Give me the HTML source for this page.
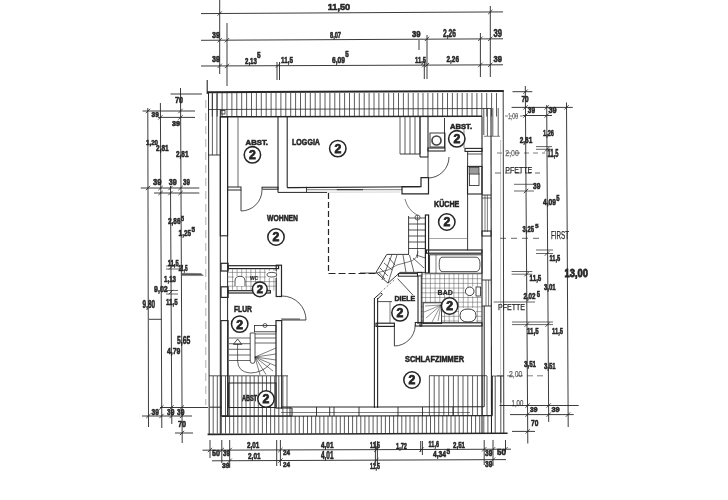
<!DOCTYPE html>
<html><head><meta charset="utf-8"><style>
html,body{margin:0;padding:0;background:#fff;width:728px;height:500px;overflow:hidden}
svg{display:block;filter:blur(0.35px)}
text{font-family:"Liberation Sans",sans-serif}
</style></head><body>
<svg width="728" height="500" viewBox="0 0 728 500">
<rect width="728" height="500" fill="#fff"/>
<line x1="201" y1="13.6" x2="503" y2="11.9" stroke="#262626" stroke-width="0.9"/>
<line x1="201" y1="40.3" x2="503" y2="38.8" stroke="#262626" stroke-width="0.9"/>
<line x1="201" y1="66" x2="503" y2="64.8" stroke="#262626" stroke-width="0.9"/>
<line x1="219.7" y1="0" x2="219.7" y2="74" stroke="#262626" stroke-width="0.9"/>
<line x1="227" y1="23" x2="227" y2="86" stroke="#262626" stroke-width="0.9"/>
<line x1="277" y1="62" x2="277" y2="80" stroke="#262626" stroke-width="0.9"/>
<line x1="279.5" y1="62" x2="279.5" y2="80" stroke="#262626" stroke-width="0.9"/>
<line x1="419" y1="40" x2="419" y2="50" stroke="#262626" stroke-width="0.9"/>
<line x1="424.3" y1="61" x2="424.3" y2="79" stroke="#262626" stroke-width="0.9"/>
<line x1="427" y1="35" x2="427" y2="79" stroke="#262626" stroke-width="0.9"/>
<line x1="480.4" y1="33" x2="480.4" y2="77" stroke="#262626" stroke-width="0.9"/>
<line x1="490.3" y1="6" x2="490.3" y2="77" stroke="#262626" stroke-width="0.9"/>
<line x1="217.5" y1="15.7" x2="221.89999999999998" y2="11.3" stroke="#262626" stroke-width="0.8"/>
<line x1="488.1" y1="14.2" x2="492.5" y2="9.8" stroke="#262626" stroke-width="0.8"/>
<line x1="217.5" y1="42.400000000000006" x2="221.89999999999998" y2="38.0" stroke="#262626" stroke-width="0.8"/>
<line x1="224.8" y1="42.400000000000006" x2="229.2" y2="38.0" stroke="#262626" stroke-width="0.8"/>
<line x1="424.8" y1="41.1" x2="429.2" y2="36.699999999999996" stroke="#262626" stroke-width="0.8"/>
<line x1="478.2" y1="41.0" x2="482.59999999999997" y2="36.599999999999994" stroke="#262626" stroke-width="0.8"/>
<line x1="488.1" y1="41.0" x2="492.5" y2="36.599999999999994" stroke="#262626" stroke-width="0.8"/>
<line x1="217.5" y1="68.10000000000001" x2="221.89999999999998" y2="63.7" stroke="#262626" stroke-width="0.8"/>
<line x1="224.8" y1="68.10000000000001" x2="229.2" y2="63.7" stroke="#262626" stroke-width="0.8"/>
<line x1="275.8" y1="67.7" x2="280.2" y2="63.3" stroke="#262626" stroke-width="0.8"/>
<line x1="422.1" y1="67.3" x2="426.5" y2="62.89999999999999" stroke="#262626" stroke-width="0.8"/>
<line x1="424.8" y1="67.3" x2="429.2" y2="62.89999999999999" stroke="#262626" stroke-width="0.8"/>
<line x1="478.2" y1="67.10000000000001" x2="482.59999999999997" y2="62.7" stroke="#262626" stroke-width="0.8"/>
<line x1="488.1" y1="67.0" x2="492.5" y2="62.599999999999994" stroke="#262626" stroke-width="0.8"/>
<text x="327.7" y="9.9" font-size="9.84" font-weight="bold" fill="#262626" stroke="#262626" stroke-width="0.6" textLength="22.50" lengthAdjust="spacingAndGlyphs">11,50</text>
<text x="212" y="37.5" font-size="8.59" font-weight="bold" fill="#262626" stroke="#262626" stroke-width="0.55" textLength="8.00" lengthAdjust="spacingAndGlyphs">39</text>
<text x="330" y="37.5" font-size="8.59" font-weight="bold" fill="#262626" stroke="#262626" stroke-width="0.55" textLength="11.00" lengthAdjust="spacingAndGlyphs">8,07</text>
<text x="412" y="37" font-size="9.38" font-weight="bold" fill="#262626" stroke="#262626" stroke-width="0.55" textLength="8.60" lengthAdjust="spacingAndGlyphs">39</text>
<text x="443" y="37" font-size="10.16" font-weight="bold" fill="#262626" stroke="#262626" stroke-width="0.55" textLength="13.00" lengthAdjust="spacingAndGlyphs">2,26</text>
<text x="493.5" y="37" font-size="10.16" font-weight="bold" fill="#262626" stroke="#262626" stroke-width="0.55" textLength="8.50" lengthAdjust="spacingAndGlyphs">39</text>
<text x="212" y="62" font-size="9.38" font-weight="bold" fill="#262626" stroke="#262626" stroke-width="0.55" textLength="8.00" lengthAdjust="spacingAndGlyphs">39</text>
<text x="245" y="63.7" font-size="8.44" font-weight="bold" fill="#262626" stroke="#262626" stroke-width="0.55" textLength="11.90" lengthAdjust="spacingAndGlyphs">2,13</text>
<text x="257.00" y="57.50" font-size="8.59" font-weight="bold" fill="#262626" stroke="#262626" stroke-width="0.55" textLength="3.60" lengthAdjust="spacingAndGlyphs">5</text>
<text x="281" y="63" font-size="9.38" font-weight="bold" fill="#262626" stroke="#262626" stroke-width="0.55" textLength="12.00" lengthAdjust="spacingAndGlyphs">11,5</text>
<text x="332" y="62.5" font-size="8.59" font-weight="bold" fill="#262626" stroke="#262626" stroke-width="0.55" textLength="13.00" lengthAdjust="spacingAndGlyphs">6,09</text>
<text x="345.30" y="56.80" font-size="8.28" font-weight="bold" fill="#262626" stroke="#262626" stroke-width="0.55" textLength="3.50" lengthAdjust="spacingAndGlyphs">5</text>
<text x="415" y="63" font-size="9.38" font-weight="bold" fill="#262626" stroke="#262626" stroke-width="0.55" textLength="11.00" lengthAdjust="spacingAndGlyphs">11,5</text>
<text x="446.5" y="62" font-size="9.38" font-weight="bold" fill="#262626" stroke="#262626" stroke-width="0.55" textLength="12.50" lengthAdjust="spacingAndGlyphs">2,26</text>
<text x="493.5" y="62" font-size="9.38" font-weight="bold" fill="#262626" stroke="#262626" stroke-width="0.55" textLength="8.50" lengthAdjust="spacingAndGlyphs">39</text>
<line x1="170.5" y1="94" x2="202" y2="94" stroke="#262626" stroke-width="0.9"/>
<text x="175" y="103" font-size="8.44" font-weight="bold" fill="#262626" stroke="#262626" stroke-width="0.55" textLength="8.00" lengthAdjust="spacingAndGlyphs">70</text>
<line x1="142.6" y1="111" x2="195" y2="111" stroke="#262626" stroke-width="0.9"/>
<line x1="158" y1="117.4" x2="195" y2="117.4" stroke="#262626" stroke-width="0.9"/>
<line x1="147.8" y1="108" x2="148.5" y2="427" stroke="#262626" stroke-width="0.9"/>
<line x1="160.4" y1="103" x2="161.8" y2="428" stroke="#262626" stroke-width="0.9"/>
<line x1="170.5" y1="186" x2="171.8" y2="424" stroke="#262626" stroke-width="0.9"/>
<line x1="180.5" y1="88" x2="182.2" y2="443" stroke="#262626" stroke-width="0.9"/>
<line x1="140.8" y1="188" x2="199.3" y2="188" stroke="#262626" stroke-width="0.9"/>
<line x1="154" y1="193" x2="199.3" y2="193" stroke="#262626" stroke-width="0.9"/>
<line x1="160" y1="407.5" x2="208" y2="407.5" stroke="#262626" stroke-width="0.9"/>
<line x1="142" y1="416" x2="192" y2="416" stroke="#262626" stroke-width="0.9"/>
<line x1="175" y1="433" x2="193" y2="433" stroke="#262626" stroke-width="0.9"/>
<line x1="149" y1="319.3" x2="161.5" y2="319.3" stroke="#262626" stroke-width="0.9"/>
<line x1="145.8" y1="113.2" x2="150.2" y2="108.8" stroke="#262626" stroke-width="0.8"/>
<line x1="158.20000000000002" y1="119.60000000000001" x2="162.6" y2="115.2" stroke="#262626" stroke-width="0.8"/>
<line x1="178.3" y1="113.2" x2="182.7" y2="108.8" stroke="#262626" stroke-width="0.8"/>
<line x1="178.3" y1="119.60000000000001" x2="182.7" y2="115.2" stroke="#262626" stroke-width="0.8"/>
<line x1="145.8" y1="190.2" x2="150.2" y2="185.8" stroke="#262626" stroke-width="0.8"/>
<line x1="158.4" y1="190.2" x2="162.79999999999998" y2="185.8" stroke="#262626" stroke-width="0.8"/>
<line x1="168.3" y1="190.2" x2="172.7" y2="185.8" stroke="#262626" stroke-width="0.8"/>
<line x1="178.4" y1="190.2" x2="182.79999999999998" y2="185.8" stroke="#262626" stroke-width="0.8"/>
<line x1="158.4" y1="195.2" x2="162.79999999999998" y2="190.8" stroke="#262626" stroke-width="0.8"/>
<line x1="168.3" y1="195.2" x2="172.7" y2="190.8" stroke="#262626" stroke-width="0.8"/>
<line x1="178.4" y1="195.2" x2="182.79999999999998" y2="190.8" stroke="#262626" stroke-width="0.8"/>
<line x1="159.10000000000002" y1="409.7" x2="163.5" y2="405.3" stroke="#262626" stroke-width="0.8"/>
<line x1="169.3" y1="409.7" x2="173.7" y2="405.3" stroke="#262626" stroke-width="0.8"/>
<line x1="179.60000000000002" y1="409.7" x2="184.0" y2="405.3" stroke="#262626" stroke-width="0.8"/>
<line x1="146.20000000000002" y1="418.2" x2="150.6" y2="413.8" stroke="#262626" stroke-width="0.8"/>
<line x1="159.3" y1="418.2" x2="163.7" y2="413.8" stroke="#262626" stroke-width="0.8"/>
<line x1="169.5" y1="418.2" x2="173.89999999999998" y2="413.8" stroke="#262626" stroke-width="0.8"/>
<line x1="179.8" y1="418.2" x2="184.2" y2="413.8" stroke="#262626" stroke-width="0.8"/>
<line x1="179.8" y1="435.2" x2="184.2" y2="430.8" stroke="#262626" stroke-width="0.8"/>
<line x1="178.8" y1="270.2" x2="183.2" y2="265.8" stroke="#262626" stroke-width="0.8"/>
<line x1="168.8" y1="269.7" x2="173.2" y2="265.3" stroke="#262626" stroke-width="0.8"/>
<line x1="168.8" y1="294.2" x2="173.2" y2="289.8" stroke="#262626" stroke-width="0.8"/>
<line x1="166" y1="266" x2="181" y2="266" stroke="#262626" stroke-width="0.7"/>
<line x1="166" y1="269" x2="181" y2="269" stroke="#262626" stroke-width="0.7"/>
<path d="M181.3,273.2 L201,273.6 L203.5,275.6 L181.3,275.6 Z" fill="#555" stroke="#555" stroke-width="0.4"/>
<line x1="166" y1="290.5" x2="178" y2="290.5" stroke="#262626" stroke-width="0.7"/>
<line x1="166" y1="294" x2="178" y2="294" stroke="#262626" stroke-width="0.7"/>
<text x="151.6" y="116.5" font-size="7.03" font-weight="bold" fill="#262626" stroke="#262626" stroke-width="0.55" textLength="7.20" lengthAdjust="spacingAndGlyphs">39</text>
<text x="172" y="125.5" font-size="7.03" font-weight="bold" fill="#262626" stroke="#262626" stroke-width="0.55" textLength="8.00" lengthAdjust="spacingAndGlyphs">39</text>
<text x="146" y="145" font-size="7.81" font-weight="bold" fill="#262626" stroke="#262626" stroke-width="0.55" textLength="12.00" lengthAdjust="spacingAndGlyphs">1,20</text>
<text x="156" y="150.7" font-size="8.91" font-weight="bold" fill="#262626" stroke="#262626" stroke-width="0.55" textLength="12.70" lengthAdjust="spacingAndGlyphs">2,81</text>
<text x="176" y="157" font-size="8.44" font-weight="bold" fill="#262626" stroke="#262626" stroke-width="0.55" textLength="12.50" lengthAdjust="spacingAndGlyphs">2,81</text>
<text x="153" y="185.3" font-size="9.84" font-weight="bold" fill="#262626" stroke="#262626" stroke-width="0.55" textLength="8.50" lengthAdjust="spacingAndGlyphs">39</text>
<text x="168.7" y="185.3" font-size="9.84" font-weight="bold" fill="#262626" stroke="#262626" stroke-width="0.55" textLength="8.10" lengthAdjust="spacingAndGlyphs">39</text>
<text x="183" y="185.3" font-size="9.84" font-weight="bold" fill="#262626" stroke="#262626" stroke-width="0.55" textLength="7.00" lengthAdjust="spacingAndGlyphs">39</text>
<text x="168" y="224" font-size="8.44" font-weight="bold" fill="#262626" stroke="#262626" stroke-width="0.55" textLength="12.50" lengthAdjust="spacingAndGlyphs">2,86</text>
<text x="181.00" y="221.30" font-size="7.03" font-weight="bold" fill="#262626" stroke="#262626" stroke-width="0.55" textLength="3.00" lengthAdjust="spacingAndGlyphs">5</text>
<text x="178.6" y="235.7" font-size="9.84" font-weight="bold" fill="#262626" stroke="#262626" stroke-width="0.55" textLength="12.40" lengthAdjust="spacingAndGlyphs">1,25</text>
<text x="191.50" y="232.00" font-size="6.88" font-weight="bold" fill="#262626" stroke="#262626" stroke-width="0.55" textLength="3.50" lengthAdjust="spacingAndGlyphs">5</text>
<text x="167.8" y="265.5" font-size="8.59" font-weight="bold" fill="#262626" stroke="#262626" stroke-width="0.55" textLength="10.80" lengthAdjust="spacingAndGlyphs">11,5</text>
<text x="178.6" y="270.7" font-size="8.91" font-weight="bold" fill="#262626" stroke="#262626" stroke-width="0.55" textLength="9.00" lengthAdjust="spacingAndGlyphs">11,5</text>
<text x="164" y="281.5" font-size="9.38" font-weight="bold" fill="#262626" stroke="#262626" stroke-width="0.55" textLength="12.00" lengthAdjust="spacingAndGlyphs">1,13</text>
<text x="154" y="292.3" font-size="9.84" font-weight="bold" fill="#262626" stroke="#262626" stroke-width="0.55" textLength="13.80" lengthAdjust="spacingAndGlyphs">9,02</text>
<text x="166" y="305" font-size="9.38" font-weight="bold" fill="#262626" stroke="#262626" stroke-width="0.55" textLength="11.70" lengthAdjust="spacingAndGlyphs">11,5</text>
<text x="142.6" y="307.6" font-size="10.31" font-weight="bold" fill="#262626" stroke="#262626" stroke-width="0.55" textLength="12.40" lengthAdjust="spacingAndGlyphs">9,80</text>
<text x="177" y="344.4" font-size="10.00" font-weight="bold" fill="#262626" stroke="#262626" stroke-width="0.55" textLength="13.30" lengthAdjust="spacingAndGlyphs">5,65</text>
<text x="167" y="354.3" font-size="9.84" font-weight="bold" fill="#262626" stroke="#262626" stroke-width="0.55" textLength="13.40" lengthAdjust="spacingAndGlyphs">4,79</text>
<text x="151.6" y="415" font-size="9.38" font-weight="bold" fill="#262626" stroke="#262626" stroke-width="0.55" textLength="7.40" lengthAdjust="spacingAndGlyphs">39</text>
<text x="167" y="415" font-size="9.38" font-weight="bold" fill="#262626" stroke="#262626" stroke-width="0.55" textLength="7.40" lengthAdjust="spacingAndGlyphs">39</text>
<text x="177" y="415" font-size="9.38" font-weight="bold" fill="#262626" stroke="#262626" stroke-width="0.55" textLength="7.40" lengthAdjust="spacingAndGlyphs">39</text>
<text x="178" y="427" font-size="8.44" font-weight="bold" fill="#262626" stroke="#262626" stroke-width="0.55" textLength="8.00" lengthAdjust="spacingAndGlyphs">70</text>
<line x1="202.5" y1="450.2" x2="511" y2="449.2" stroke="#262626" stroke-width="0.9"/>
<line x1="212" y1="460.8" x2="506" y2="459.6" stroke="#262626" stroke-width="0.9"/>
<line x1="210" y1="440" x2="210" y2="458" stroke="#262626" stroke-width="0.9"/>
<line x1="221.8" y1="440" x2="221.8" y2="463" stroke="#262626" stroke-width="0.9"/>
<line x1="229.7" y1="440" x2="229.7" y2="468" stroke="#262626" stroke-width="0.9"/>
<line x1="276.7" y1="440" x2="276.7" y2="466" stroke="#262626" stroke-width="0.9"/>
<line x1="280.4" y1="440" x2="280.4" y2="466" stroke="#262626" stroke-width="0.9"/>
<line x1="375.4" y1="441" x2="375.4" y2="466" stroke="#262626" stroke-width="0.9"/>
<line x1="377.4" y1="441" x2="377.4" y2="466" stroke="#262626" stroke-width="0.9"/>
<line x1="420.7" y1="441" x2="420.7" y2="452" stroke="#262626" stroke-width="0.9"/>
<line x1="422.4" y1="441" x2="422.4" y2="455" stroke="#262626" stroke-width="0.9"/>
<line x1="484.2" y1="440" x2="484.2" y2="465" stroke="#262626" stroke-width="0.9"/>
<line x1="493" y1="440" x2="493" y2="466" stroke="#262626" stroke-width="0.9"/>
<line x1="505.5" y1="440" x2="505.5" y2="452" stroke="#262626" stroke-width="0.9"/>
<line x1="207.8" y1="452.2" x2="212.2" y2="447.8" stroke="#262626" stroke-width="0.8"/>
<line x1="219.60000000000002" y1="452.2" x2="224.0" y2="447.8" stroke="#262626" stroke-width="0.8"/>
<line x1="227.5" y1="452.2" x2="231.89999999999998" y2="447.8" stroke="#262626" stroke-width="0.8"/>
<line x1="227.5" y1="463.0" x2="231.89999999999998" y2="458.6" stroke="#262626" stroke-width="0.8"/>
<line x1="278.2" y1="452.2" x2="282.59999999999997" y2="447.8" stroke="#262626" stroke-width="0.8"/>
<line x1="278.2" y1="462.8" x2="282.59999999999997" y2="458.40000000000003" stroke="#262626" stroke-width="0.8"/>
<line x1="374.2" y1="452.0" x2="378.59999999999997" y2="447.6" stroke="#262626" stroke-width="0.8"/>
<line x1="374.2" y1="462.4" x2="378.59999999999997" y2="458.0" stroke="#262626" stroke-width="0.8"/>
<line x1="419.3" y1="451.8" x2="423.7" y2="447.40000000000003" stroke="#262626" stroke-width="0.8"/>
<line x1="482.0" y1="451.5" x2="486.4" y2="447.1" stroke="#262626" stroke-width="0.8"/>
<line x1="490.8" y1="451.5" x2="495.2" y2="447.1" stroke="#262626" stroke-width="0.8"/>
<line x1="490.8" y1="461.9" x2="495.2" y2="457.5" stroke="#262626" stroke-width="0.8"/>
<line x1="503.3" y1="451.4" x2="507.7" y2="447.0" stroke="#262626" stroke-width="0.8"/>
<text x="212" y="456.4" font-size="8.44" font-weight="bold" fill="#262626" stroke="#262626" stroke-width="0.55" textLength="8.00" lengthAdjust="spacingAndGlyphs">50</text>
<text x="223" y="456.4" font-size="8.44" font-weight="bold" fill="#262626" stroke="#262626" stroke-width="0.55" textLength="7.00" lengthAdjust="spacingAndGlyphs">39</text>
<text x="222" y="468" font-size="7.81" font-weight="bold" fill="#262626" stroke="#262626" stroke-width="0.55" textLength="7.70" lengthAdjust="spacingAndGlyphs">39</text>
<text x="247" y="448.4" font-size="8.44" font-weight="bold" fill="#262626" stroke="#262626" stroke-width="0.55" textLength="12.30" lengthAdjust="spacingAndGlyphs">2,01</text>
<text x="248" y="459" font-size="9.38" font-weight="bold" fill="#262626" stroke="#262626" stroke-width="0.55" textLength="12.60" lengthAdjust="spacingAndGlyphs">2,01</text>
<text x="283" y="454.6" font-size="7.66" font-weight="bold" fill="#262626" stroke="#262626" stroke-width="0.55" textLength="7.00" lengthAdjust="spacingAndGlyphs">24</text>
<text x="283" y="467" font-size="7.81" font-weight="bold" fill="#262626" stroke="#262626" stroke-width="0.55" textLength="7.00" lengthAdjust="spacingAndGlyphs">24</text>
<text x="321" y="448.4" font-size="8.44" font-weight="bold" fill="#262626" stroke="#262626" stroke-width="0.55" textLength="12.50" lengthAdjust="spacingAndGlyphs">4,01</text>
<text x="321" y="459" font-size="10.16" font-weight="bold" fill="#262626" stroke="#262626" stroke-width="0.55" textLength="12.50" lengthAdjust="spacingAndGlyphs">4,01</text>
<text x="370" y="447.7" font-size="8.91" font-weight="bold" fill="#262626" stroke="#262626" stroke-width="0.55" textLength="10.00" lengthAdjust="spacingAndGlyphs">11,5</text>
<text x="370" y="469" font-size="9.38" font-weight="bold" fill="#262626" stroke="#262626" stroke-width="0.55" textLength="10.00" lengthAdjust="spacingAndGlyphs">11,5</text>
<text x="396" y="449" font-size="8.59" font-weight="bold" fill="#262626" stroke="#262626" stroke-width="0.55" textLength="11.00" lengthAdjust="spacingAndGlyphs">1,72</text>
<text x="428.6" y="446.7" font-size="8.91" font-weight="bold" fill="#262626" stroke="#262626" stroke-width="0.55" textLength="10.40" lengthAdjust="spacingAndGlyphs">11,6</text>
<text x="453" y="447.7" font-size="8.91" font-weight="bold" fill="#262626" stroke="#262626" stroke-width="0.55" textLength="12.00" lengthAdjust="spacingAndGlyphs">2,51</text>
<text x="433" y="457.4" font-size="8.44" font-weight="bold" fill="#262626" stroke="#262626" stroke-width="0.55" textLength="13.00" lengthAdjust="spacingAndGlyphs">4,34</text>
<text x="446.40" y="453.70" font-size="8.12" font-weight="bold" fill="#262626" stroke="#262626" stroke-width="0.55" textLength="3.60" lengthAdjust="spacingAndGlyphs">5</text>
<text x="485" y="456" font-size="9.38" font-weight="bold" fill="#262626" stroke="#262626" stroke-width="0.55" textLength="7.40" lengthAdjust="spacingAndGlyphs">39</text>
<text x="485" y="466.5" font-size="9.38" font-weight="bold" fill="#262626" stroke="#262626" stroke-width="0.55" textLength="7.40" lengthAdjust="spacingAndGlyphs">39</text>
<text x="497" y="455" font-size="8.28" font-weight="bold" fill="#262626" stroke="#262626" stroke-width="0.55" textLength="9.00" lengthAdjust="spacingAndGlyphs">50</text>
<line x1="512.5" y1="91.7" x2="532.3" y2="91.7" stroke="#262626" stroke-width="0.9"/>
<text x="521.5" y="101.6" font-size="8.75" font-weight="bold" fill="#262626" stroke="#262626" stroke-width="0.55" textLength="7.20" lengthAdjust="spacingAndGlyphs">70</text>
<line x1="525.3" y1="86" x2="527.8" y2="443.5" stroke="#262626" stroke-width="0.9"/>
<line x1="511.6" y1="107.4" x2="572.8" y2="107.4" stroke="#262626" stroke-width="0.9"/>
<line x1="523" y1="115.5" x2="552" y2="115.5" stroke="#262626" stroke-width="0.9"/>
<text x="527.8" y="113.3" font-size="8.28" font-weight="bold" fill="#262626" stroke="#262626" stroke-width="0.55" textLength="7.20" lengthAdjust="spacingAndGlyphs">39</text>
<text x="548.5" y="113.3" font-size="8.28" font-weight="bold" fill="#262626" stroke="#262626" stroke-width="0.55" textLength="8.10" lengthAdjust="spacingAndGlyphs">39</text>
<text x="508" y="118.7" font-size="8.91" font-weight="normal" fill="#262626" stroke="#262626" stroke-width="0.25" textLength="10.00" lengthAdjust="spacingAndGlyphs" opacity="0.7">1,00</text>
<line x1="505" y1="116" x2="523" y2="116" stroke="#262626" stroke-width="0.6" stroke-dasharray="3,2"/>
<line x1="546.7" y1="105" x2="548.7" y2="422" stroke="#262626" stroke-width="0.9"/>
<line x1="566.5" y1="102.5" x2="568.2" y2="427" stroke="#262626" stroke-width="0.9"/>
<line x1="523.3" y1="93.9" x2="527.7" y2="89.5" stroke="#262626" stroke-width="0.8"/>
<line x1="523.3" y1="109.60000000000001" x2="527.7" y2="105.2" stroke="#262626" stroke-width="0.8"/>
<line x1="544.5" y1="109.60000000000001" x2="548.9000000000001" y2="105.2" stroke="#262626" stroke-width="0.8"/>
<line x1="564.3" y1="109.60000000000001" x2="568.7" y2="105.2" stroke="#262626" stroke-width="0.8"/>
<line x1="523.3" y1="117.7" x2="527.7" y2="113.3" stroke="#262626" stroke-width="0.8"/>
<line x1="544.5" y1="117.7" x2="548.9000000000001" y2="113.3" stroke="#262626" stroke-width="0.8"/>
<line x1="544.8" y1="151.5" x2="549.2" y2="147.10000000000002" stroke="#262626" stroke-width="0.8"/>
<line x1="523.8" y1="193.2" x2="528.2" y2="188.8" stroke="#262626" stroke-width="0.8"/>
<line x1="544.8" y1="255.7" x2="549.2" y2="251.3" stroke="#262626" stroke-width="0.8"/>
<line x1="524.3" y1="276.4" x2="528.7" y2="272.0" stroke="#262626" stroke-width="0.8"/>
<line x1="524.5999999999999" y1="326.8" x2="529.0" y2="322.40000000000003" stroke="#262626" stroke-width="0.8"/>
<line x1="545.4" y1="326.8" x2="549.8000000000001" y2="322.40000000000003" stroke="#262626" stroke-width="0.8"/>
<line x1="525.4" y1="407.7" x2="529.8000000000001" y2="403.3" stroke="#262626" stroke-width="0.8"/>
<line x1="546.5" y1="407.7" x2="550.9000000000001" y2="403.3" stroke="#262626" stroke-width="0.8"/>
<line x1="525.4" y1="416.8" x2="529.8000000000001" y2="412.40000000000003" stroke="#262626" stroke-width="0.8"/>
<line x1="546.5" y1="416.8" x2="550.9000000000001" y2="412.40000000000003" stroke="#262626" stroke-width="0.8"/>
<line x1="565.8" y1="416.8" x2="570.2" y2="412.40000000000003" stroke="#262626" stroke-width="0.8"/>
<line x1="525.5" y1="433.59999999999997" x2="529.9000000000001" y2="429.2" stroke="#262626" stroke-width="0.8"/>
<text x="543" y="135.8" font-size="9.84" font-weight="bold" fill="#262626" stroke="#262626" stroke-width="0.55" textLength="11.00" lengthAdjust="spacingAndGlyphs">1,26</text>
<text x="519.7" y="143" font-size="9.38" font-weight="bold" fill="#262626" stroke="#262626" stroke-width="0.55" textLength="12.60" lengthAdjust="spacingAndGlyphs">2,81</text>
<line x1="536" y1="146.6" x2="552" y2="146.6" stroke="#262626" stroke-width="0.7"/>
<line x1="536" y1="149.3" x2="552" y2="149.3" stroke="#262626" stroke-width="0.7"/>
<text x="547.6" y="157.4" font-size="10.00" font-weight="bold" fill="#262626" stroke="#262626" stroke-width="0.55" textLength="10.80" lengthAdjust="spacingAndGlyphs">11,5</text>
<text x="505.3" y="155.6" font-size="9.53" font-weight="normal" fill="#262626" stroke="#262626" stroke-width="0.25" textLength="13.50" lengthAdjust="spacingAndGlyphs" opacity="0.7">2,00</text>
<line x1="497" y1="153" x2="545" y2="153" stroke="#262626" stroke-width="0.6" stroke-dasharray="5,4"/>
<text x="505.3" y="172.6" font-size="9.84" font-weight="normal" fill="#262626" stroke="#262626" stroke-width="0.25" textLength="27.00" lengthAdjust="spacingAndGlyphs">PFETTE</text>
<line x1="495" y1="173" x2="540" y2="173" stroke="#262626" stroke-width="0.7" stroke-dasharray="6,4"/>
<line x1="514" y1="184.3" x2="534" y2="184.3" stroke="#262626" stroke-width="0.7"/>
<line x1="514" y1="191" x2="534" y2="191" stroke="#262626" stroke-width="0.7"/>
<text x="533" y="188.8" font-size="9.84" font-weight="bold" fill="#262626" stroke="#262626" stroke-width="0.55" textLength="7.40" lengthAdjust="spacingAndGlyphs">39</text>
<text x="543" y="205" font-size="8.44" font-weight="bold" fill="#262626" stroke="#262626" stroke-width="0.55" textLength="13.00" lengthAdjust="spacingAndGlyphs">4,09</text>
<text x="556.20" y="201.40" font-size="8.44" font-weight="bold" fill="#262626" stroke="#262626" stroke-width="0.55" textLength="3.30" lengthAdjust="spacingAndGlyphs">5</text>
<text x="522.6" y="232.4" font-size="8.44" font-weight="bold" fill="#262626" stroke="#262626" stroke-width="0.55" textLength="11.40" lengthAdjust="spacingAndGlyphs">3,25</text>
<text x="535.20" y="227.60" font-size="5.47" font-weight="bold" fill="#262626" stroke="#262626" stroke-width="0.55" textLength="3.30" lengthAdjust="spacingAndGlyphs">5</text>
<text x="551" y="239" font-size="10.94" font-weight="normal" fill="#262626" stroke="#262626" stroke-width="0.25" textLength="18.00" lengthAdjust="spacingAndGlyphs">FIRST</text>
<line x1="500" y1="238.3" x2="544" y2="238.3" stroke="#262626" stroke-width="0.7" stroke-dasharray="6,5"/>
<line x1="536" y1="250" x2="553" y2="250" stroke="#262626" stroke-width="0.7"/>
<line x1="536" y1="253.5" x2="553" y2="253.5" stroke="#262626" stroke-width="0.7"/>
<text x="549.4" y="260.7" font-size="8.44" font-weight="bold" fill="#262626" stroke="#262626" stroke-width="0.55" textLength="10.80" lengthAdjust="spacingAndGlyphs">11,5</text>
<line x1="511.6" y1="271.5" x2="532.3" y2="271.5" stroke="#262626" stroke-width="0.7"/>
<line x1="511.6" y1="274.2" x2="532.3" y2="274.2" stroke="#262626" stroke-width="0.7"/>
<text x="529.6" y="280.5" font-size="8.59" font-weight="bold" fill="#262626" stroke="#262626" stroke-width="0.55" textLength="11.70" lengthAdjust="spacingAndGlyphs">11,5</text>
<text x="544" y="290.4" font-size="8.44" font-weight="bold" fill="#262626" stroke="#262626" stroke-width="0.55" textLength="11.70" lengthAdjust="spacingAndGlyphs">3,01</text>
<text x="523.4" y="299.2" font-size="9.06" font-weight="bold" fill="#262626" stroke="#262626" stroke-width="0.55" textLength="12.20" lengthAdjust="spacingAndGlyphs">2,02</text>
<text x="536.80" y="296.50" font-size="8.28" font-weight="bold" fill="#262626" stroke="#262626" stroke-width="0.55" textLength="3.30" lengthAdjust="spacingAndGlyphs">5</text>
<text x="498" y="310.2" font-size="9.69" font-weight="normal" fill="#262626" stroke="#262626" stroke-width="0.25" textLength="27.00" lengthAdjust="spacingAndGlyphs">PFETTE</text>
<line x1="493.6" y1="302" x2="535" y2="302" stroke="#262626" stroke-width="0.7"/>
<line x1="512" y1="322" x2="553" y2="322" stroke="#262626" stroke-width="0.7"/>
<line x1="512" y1="324.6" x2="553" y2="324.6" stroke="#262626" stroke-width="0.7"/>
<text x="564.6" y="277" font-size="11.25" font-weight="bold" fill="#262626" stroke="#262626" stroke-width="0.8" textLength="23.40" lengthAdjust="spacingAndGlyphs">13,00</text>
<text x="527" y="333.5" font-size="9.38" font-weight="bold" fill="#262626" stroke="#262626" stroke-width="0.55" textLength="11.60" lengthAdjust="spacingAndGlyphs">11,5</text>
<text x="552" y="333.5" font-size="9.38" font-weight="bold" fill="#262626" stroke="#262626" stroke-width="0.55" textLength="11.00" lengthAdjust="spacingAndGlyphs">11,5</text>
<text x="524" y="366.8" font-size="9.84" font-weight="bold" fill="#262626" stroke="#262626" stroke-width="0.55" textLength="12.00" lengthAdjust="spacingAndGlyphs">3,51</text>
<text x="544" y="368.6" font-size="9.84" font-weight="bold" fill="#262626" stroke="#262626" stroke-width="0.55" textLength="11.70" lengthAdjust="spacingAndGlyphs">3,51</text>
<text x="509" y="376.7" font-size="8.44" font-weight="normal" fill="#262626" stroke="#262626" stroke-width="0.25" textLength="13.40" lengthAdjust="spacingAndGlyphs" opacity="0.7">2,00</text>
<line x1="497" y1="375.8" x2="545" y2="375.8" stroke="#262626" stroke-width="0.6" stroke-dasharray="6,4"/>
<line x1="500.8" y1="375.8" x2="500.8" y2="402.8" stroke="#262626" stroke-width="0.7"/>
<text x="511.6" y="405.5" font-size="8.59" font-weight="normal" fill="#262626" stroke="#262626" stroke-width="0.25" textLength="11.70" lengthAdjust="spacingAndGlyphs" opacity="0.8">1,00</text>
<line x1="499.5" y1="405.5" x2="578.7" y2="405.5" stroke="#262626" stroke-width="0.9"/>
<line x1="510" y1="414.6" x2="573.7" y2="414.6" stroke="#262626" stroke-width="0.9"/>
<line x1="512" y1="431.4" x2="535" y2="431.4" stroke="#262626" stroke-width="0.9"/>
<text x="530" y="412" font-size="7.81" font-weight="bold" fill="#262626" stroke="#262626" stroke-width="0.55" textLength="7.50" lengthAdjust="spacingAndGlyphs">39</text>
<text x="551.5" y="412" font-size="7.81" font-weight="bold" fill="#262626" stroke="#262626" stroke-width="0.55" textLength="8.20" lengthAdjust="spacingAndGlyphs">39</text>
<text x="531" y="426" font-size="8.59" font-weight="bold" fill="#262626" stroke="#262626" stroke-width="0.55" textLength="7.30" lengthAdjust="spacingAndGlyphs">70</text>
<line x1="207" y1="92.3" x2="503.8" y2="90.9" stroke="#262626" stroke-width="2.0"/>
<line x1="208.5" y1="92" x2="209.2" y2="434.5" stroke="#262626" stroke-width="1.0"/>
<line x1="207.2" y1="80" x2="207.2" y2="94" stroke="#262626" stroke-width="1.1"/>
<line x1="503.2" y1="91.5" x2="503.8" y2="433.5" stroke="#262626" stroke-width="0.9"/>
<line x1="207.6" y1="434.4" x2="507.6" y2="433.2" stroke="#262626" stroke-width="1.6"/>
<line x1="205.8" y1="100" x2="205.8" y2="405" stroke="#777" stroke-width="0.6" stroke-dasharray="8,5"/>
<line x1="212.3" y1="93" x2="212.3" y2="116.5" stroke="#262626" stroke-width="0.75"/>
<line x1="217.2" y1="93" x2="217.2" y2="116.5" stroke="#262626" stroke-width="0.75"/>
<line x1="222.1" y1="93" x2="222.1" y2="116.5" stroke="#262626" stroke-width="0.75"/>
<line x1="227.0" y1="93" x2="227.0" y2="116.5" stroke="#262626" stroke-width="0.75"/>
<line x1="231.9" y1="93" x2="231.9" y2="116.5" stroke="#262626" stroke-width="0.75"/>
<line x1="236.8" y1="93" x2="236.8" y2="116.5" stroke="#262626" stroke-width="0.75"/>
<line x1="241.7" y1="93" x2="241.7" y2="116.5" stroke="#262626" stroke-width="0.75"/>
<line x1="246.6" y1="93" x2="246.6" y2="116.5" stroke="#262626" stroke-width="0.75"/>
<line x1="251.5" y1="93" x2="251.5" y2="116.5" stroke="#262626" stroke-width="0.75"/>
<line x1="256.4" y1="93" x2="256.4" y2="116.5" stroke="#262626" stroke-width="0.75"/>
<line x1="261.3" y1="93" x2="261.3" y2="116.5" stroke="#262626" stroke-width="0.75"/>
<line x1="266.2" y1="93" x2="266.2" y2="116.5" stroke="#262626" stroke-width="0.75"/>
<line x1="271.1" y1="93" x2="271.1" y2="116.5" stroke="#262626" stroke-width="0.75"/>
<line x1="276.0" y1="93" x2="276.0" y2="116.5" stroke="#262626" stroke-width="0.75"/>
<line x1="280.9" y1="93" x2="280.9" y2="116.5" stroke="#262626" stroke-width="0.75"/>
<line x1="285.8" y1="93" x2="285.8" y2="116.5" stroke="#262626" stroke-width="0.75"/>
<line x1="290.7" y1="93" x2="290.7" y2="116.5" stroke="#262626" stroke-width="0.75"/>
<line x1="295.6" y1="93" x2="295.6" y2="116.5" stroke="#262626" stroke-width="0.75"/>
<line x1="300.5" y1="93" x2="300.5" y2="116.5" stroke="#262626" stroke-width="0.75"/>
<line x1="305.4" y1="93" x2="305.4" y2="116.5" stroke="#262626" stroke-width="0.75"/>
<line x1="310.3" y1="93" x2="310.3" y2="116.5" stroke="#262626" stroke-width="0.75"/>
<line x1="315.2" y1="93" x2="315.2" y2="116.5" stroke="#262626" stroke-width="0.75"/>
<line x1="320.1" y1="93" x2="320.1" y2="116.5" stroke="#262626" stroke-width="0.75"/>
<line x1="325.0" y1="93" x2="325.0" y2="116.5" stroke="#262626" stroke-width="0.75"/>
<line x1="329.9" y1="93" x2="329.9" y2="116.5" stroke="#262626" stroke-width="0.75"/>
<line x1="334.8" y1="93" x2="334.8" y2="116.5" stroke="#262626" stroke-width="0.75"/>
<line x1="339.7" y1="93" x2="339.7" y2="116.5" stroke="#262626" stroke-width="0.75"/>
<line x1="344.6" y1="93" x2="344.6" y2="116.5" stroke="#262626" stroke-width="0.75"/>
<line x1="349.5" y1="93" x2="349.5" y2="116.5" stroke="#262626" stroke-width="0.75"/>
<line x1="354.4" y1="93" x2="354.4" y2="116.5" stroke="#262626" stroke-width="0.75"/>
<line x1="359.3" y1="93" x2="359.3" y2="116.5" stroke="#262626" stroke-width="0.75"/>
<line x1="364.2" y1="93" x2="364.2" y2="116.5" stroke="#262626" stroke-width="0.75"/>
<line x1="369.1" y1="93" x2="369.1" y2="116.5" stroke="#262626" stroke-width="0.75"/>
<line x1="374.0" y1="93" x2="374.0" y2="116.5" stroke="#262626" stroke-width="0.75"/>
<line x1="378.9" y1="93" x2="378.9" y2="116.5" stroke="#262626" stroke-width="0.75"/>
<line x1="383.8" y1="93" x2="383.8" y2="116.5" stroke="#262626" stroke-width="0.75"/>
<line x1="388.7" y1="93" x2="388.7" y2="116.5" stroke="#262626" stroke-width="0.75"/>
<line x1="393.6" y1="93" x2="393.6" y2="116.5" stroke="#262626" stroke-width="0.75"/>
<line x1="398.5" y1="93" x2="398.5" y2="116.5" stroke="#262626" stroke-width="0.75"/>
<line x1="403.4" y1="93" x2="403.4" y2="116.5" stroke="#262626" stroke-width="0.75"/>
<line x1="408.3" y1="93" x2="408.3" y2="116.5" stroke="#262626" stroke-width="0.75"/>
<line x1="413.2" y1="93" x2="413.2" y2="116.5" stroke="#262626" stroke-width="0.75"/>
<line x1="418.1" y1="93" x2="418.1" y2="116.5" stroke="#262626" stroke-width="0.75"/>
<line x1="423.0" y1="93" x2="423.0" y2="116.5" stroke="#262626" stroke-width="0.75"/>
<line x1="427.9" y1="93" x2="427.9" y2="116.5" stroke="#262626" stroke-width="0.75"/>
<line x1="432.8" y1="93" x2="432.8" y2="116.5" stroke="#262626" stroke-width="0.75"/>
<line x1="437.7" y1="93" x2="437.7" y2="116.5" stroke="#262626" stroke-width="0.75"/>
<line x1="442.6" y1="93" x2="442.6" y2="116.5" stroke="#262626" stroke-width="0.75"/>
<line x1="447.5" y1="93" x2="447.5" y2="116.5" stroke="#262626" stroke-width="0.75"/>
<line x1="452.4" y1="93" x2="452.4" y2="116.5" stroke="#262626" stroke-width="0.75"/>
<line x1="457.3" y1="93" x2="457.3" y2="116.5" stroke="#262626" stroke-width="0.75"/>
<line x1="462.2" y1="93" x2="462.2" y2="116.5" stroke="#262626" stroke-width="0.75"/>
<line x1="467.1" y1="93" x2="467.1" y2="116.5" stroke="#262626" stroke-width="0.75"/>
<line x1="472.0" y1="93" x2="472.0" y2="116.5" stroke="#262626" stroke-width="0.75"/>
<line x1="476.9" y1="93" x2="476.9" y2="116.5" stroke="#262626" stroke-width="0.75"/>
<line x1="481.8" y1="93" x2="481.8" y2="116.5" stroke="#262626" stroke-width="0.75"/>
<line x1="486.7" y1="93" x2="486.7" y2="116.5" stroke="#262626" stroke-width="0.75"/>
<line x1="491.6" y1="93" x2="491.6" y2="116.5" stroke="#262626" stroke-width="0.75"/>
<line x1="496.5" y1="93" x2="496.5" y2="116.5" stroke="#262626" stroke-width="0.75"/>
<line x1="208" y1="109.5" x2="491" y2="108.5" stroke="#262626" stroke-width="0.8"/>
<line x1="220" y1="116.8" x2="482" y2="116.2" stroke="#262626" stroke-width="1.4"/>
<line x1="212.4" y1="93.5" x2="212.4" y2="155" stroke="#262626" stroke-width="0.75"/>
<line x1="216.9" y1="93.5" x2="216.9" y2="155" stroke="#262626" stroke-width="0.75"/>
<line x1="208" y1="155" x2="220" y2="155" stroke="#262626" stroke-width="0.9"/>
<line x1="487.4" y1="108" x2="487.4" y2="136" stroke="#262626" stroke-width="0.75"/>
<line x1="492.8" y1="108" x2="492.8" y2="136" stroke="#262626" stroke-width="0.75"/>
<line x1="498.2" y1="108" x2="498.2" y2="136" stroke="#262626" stroke-width="0.75"/>
<line x1="483.8" y1="108.4" x2="483.8" y2="135" stroke="#262626" stroke-width="0.8"/>
<line x1="483.8" y1="136.3" x2="500" y2="136.3" stroke="#262626" stroke-width="0.6"/>
<line x1="213.2" y1="416" x2="213.2" y2="433.5" stroke="#262626" stroke-width="0.75"/>
<line x1="217.3" y1="416" x2="217.3" y2="433.5" stroke="#262626" stroke-width="0.75"/>
<line x1="221.4" y1="416" x2="221.4" y2="433.5" stroke="#262626" stroke-width="0.75"/>
<line x1="225.5" y1="416" x2="225.5" y2="433.5" stroke="#262626" stroke-width="0.75"/>
<line x1="229.6" y1="416" x2="229.6" y2="433.5" stroke="#262626" stroke-width="0.75"/>
<line x1="233.7" y1="416" x2="233.7" y2="433.5" stroke="#262626" stroke-width="0.75"/>
<line x1="237.8" y1="416" x2="237.8" y2="433.5" stroke="#262626" stroke-width="0.75"/>
<line x1="241.9" y1="416" x2="241.9" y2="433.5" stroke="#262626" stroke-width="0.75"/>
<line x1="246.0" y1="416" x2="246.0" y2="433.5" stroke="#262626" stroke-width="0.75"/>
<line x1="250.1" y1="416" x2="250.1" y2="433.5" stroke="#262626" stroke-width="0.75"/>
<line x1="254.2" y1="416" x2="254.2" y2="433.5" stroke="#262626" stroke-width="0.75"/>
<line x1="258.3" y1="416" x2="258.3" y2="433.5" stroke="#262626" stroke-width="0.75"/>
<line x1="262.4" y1="416" x2="262.4" y2="433.5" stroke="#262626" stroke-width="0.75"/>
<line x1="266.5" y1="416" x2="266.5" y2="433.5" stroke="#262626" stroke-width="0.75"/>
<line x1="270.6" y1="416" x2="270.6" y2="433.5" stroke="#262626" stroke-width="0.75"/>
<line x1="274.7" y1="416" x2="274.7" y2="433.5" stroke="#262626" stroke-width="0.75"/>
<line x1="278.8" y1="416" x2="278.8" y2="433.5" stroke="#262626" stroke-width="0.75"/>
<line x1="282.9" y1="416" x2="282.9" y2="433.5" stroke="#262626" stroke-width="0.75"/>
<line x1="287.0" y1="416" x2="287.0" y2="433.5" stroke="#262626" stroke-width="0.75"/>
<line x1="291.1" y1="416" x2="291.1" y2="433.5" stroke="#262626" stroke-width="0.75"/>
<line x1="295.2" y1="416" x2="295.2" y2="433.5" stroke="#262626" stroke-width="0.75"/>
<line x1="299.3" y1="416" x2="299.3" y2="433.5" stroke="#262626" stroke-width="0.75"/>
<line x1="303.4" y1="416" x2="303.4" y2="433.5" stroke="#262626" stroke-width="0.75"/>
<line x1="307.5" y1="416" x2="307.5" y2="433.5" stroke="#262626" stroke-width="0.75"/>
<line x1="311.6" y1="416" x2="311.6" y2="433.5" stroke="#262626" stroke-width="0.75"/>
<line x1="315.7" y1="416" x2="315.7" y2="433.5" stroke="#262626" stroke-width="0.75"/>
<line x1="319.8" y1="416" x2="319.8" y2="433.5" stroke="#262626" stroke-width="0.75"/>
<line x1="323.9" y1="416" x2="323.9" y2="433.5" stroke="#262626" stroke-width="0.75"/>
<line x1="328.0" y1="416" x2="328.0" y2="433.5" stroke="#262626" stroke-width="0.75"/>
<line x1="332.1" y1="416" x2="332.1" y2="433.5" stroke="#262626" stroke-width="0.75"/>
<line x1="336.2" y1="416" x2="336.2" y2="433.5" stroke="#262626" stroke-width="0.75"/>
<line x1="340.3" y1="416" x2="340.3" y2="433.5" stroke="#262626" stroke-width="0.75"/>
<line x1="344.4" y1="416" x2="344.4" y2="433.5" stroke="#262626" stroke-width="0.75"/>
<line x1="348.5" y1="416" x2="348.5" y2="433.5" stroke="#262626" stroke-width="0.75"/>
<line x1="352.6" y1="416" x2="352.6" y2="433.5" stroke="#262626" stroke-width="0.75"/>
<line x1="356.7" y1="416" x2="356.7" y2="433.5" stroke="#262626" stroke-width="0.75"/>
<line x1="360.8" y1="416" x2="360.8" y2="433.5" stroke="#262626" stroke-width="0.75"/>
<line x1="364.9" y1="416" x2="364.9" y2="433.5" stroke="#262626" stroke-width="0.75"/>
<line x1="369.0" y1="416" x2="369.0" y2="433.5" stroke="#262626" stroke-width="0.75"/>
<line x1="373.1" y1="416" x2="373.1" y2="433.5" stroke="#262626" stroke-width="0.75"/>
<line x1="377.2" y1="416" x2="377.2" y2="433.5" stroke="#262626" stroke-width="0.75"/>
<line x1="381.3" y1="416" x2="381.3" y2="433.5" stroke="#262626" stroke-width="0.75"/>
<line x1="385.4" y1="416" x2="385.4" y2="433.5" stroke="#262626" stroke-width="0.75"/>
<line x1="389.5" y1="416" x2="389.5" y2="433.5" stroke="#262626" stroke-width="0.75"/>
<line x1="393.6" y1="416" x2="393.6" y2="433.5" stroke="#262626" stroke-width="0.75"/>
<line x1="397.7" y1="416" x2="397.7" y2="433.5" stroke="#262626" stroke-width="0.75"/>
<line x1="401.8" y1="416" x2="401.8" y2="433.5" stroke="#262626" stroke-width="0.75"/>
<line x1="405.9" y1="416" x2="405.9" y2="433.5" stroke="#262626" stroke-width="0.75"/>
<line x1="410.0" y1="416" x2="410.0" y2="433.5" stroke="#262626" stroke-width="0.75"/>
<line x1="414.1" y1="416" x2="414.1" y2="433.5" stroke="#262626" stroke-width="0.75"/>
<line x1="418.2" y1="416" x2="418.2" y2="433.5" stroke="#262626" stroke-width="0.75"/>
<line x1="422.3" y1="416" x2="422.3" y2="433.5" stroke="#262626" stroke-width="0.75"/>
<line x1="426.4" y1="416" x2="426.4" y2="433.5" stroke="#262626" stroke-width="0.75"/>
<line x1="430.5" y1="416" x2="430.5" y2="433.5" stroke="#262626" stroke-width="0.75"/>
<line x1="434.6" y1="416" x2="434.6" y2="433.5" stroke="#262626" stroke-width="0.75"/>
<line x1="438.7" y1="416" x2="438.7" y2="433.5" stroke="#262626" stroke-width="0.75"/>
<line x1="442.8" y1="416" x2="442.8" y2="433.5" stroke="#262626" stroke-width="0.75"/>
<line x1="446.9" y1="416" x2="446.9" y2="433.5" stroke="#262626" stroke-width="0.75"/>
<line x1="451.0" y1="416" x2="451.0" y2="433.5" stroke="#262626" stroke-width="0.75"/>
<line x1="455.1" y1="416" x2="455.1" y2="433.5" stroke="#262626" stroke-width="0.75"/>
<line x1="459.2" y1="416" x2="459.2" y2="433.5" stroke="#262626" stroke-width="0.75"/>
<line x1="463.3" y1="416" x2="463.3" y2="433.5" stroke="#262626" stroke-width="0.75"/>
<line x1="467.4" y1="416" x2="467.4" y2="433.5" stroke="#262626" stroke-width="0.75"/>
<line x1="471.5" y1="416" x2="471.5" y2="433.5" stroke="#262626" stroke-width="0.75"/>
<line x1="475.6" y1="416" x2="475.6" y2="433.5" stroke="#262626" stroke-width="0.75"/>
<line x1="479.7" y1="416" x2="479.7" y2="433.5" stroke="#262626" stroke-width="0.75"/>
<line x1="483.8" y1="416" x2="483.8" y2="433.5" stroke="#262626" stroke-width="0.75"/>
<line x1="487.9" y1="416" x2="487.9" y2="433.5" stroke="#262626" stroke-width="0.75"/>
<line x1="495.2" y1="376" x2="495.2" y2="433" stroke="#262626" stroke-width="0.8"/>
<line x1="500.8" y1="376" x2="500.8" y2="433" stroke="#262626" stroke-width="0.8"/>
<line x1="213.2" y1="376" x2="213.2" y2="416" stroke="#262626" stroke-width="0.75"/>
<line x1="217.3" y1="376" x2="217.3" y2="416" stroke="#262626" stroke-width="0.75"/>
<line x1="221.4" y1="376" x2="221.4" y2="416" stroke="#262626" stroke-width="0.75"/>
<line x1="225.5" y1="376" x2="225.5" y2="416" stroke="#262626" stroke-width="0.75"/>
<line x1="229.6" y1="376" x2="229.6" y2="416" stroke="#262626" stroke-width="0.75"/>
<line x1="233.7" y1="376" x2="233.7" y2="416" stroke="#262626" stroke-width="0.75"/>
<line x1="237.8" y1="376" x2="237.8" y2="416" stroke="#262626" stroke-width="0.75"/>
<line x1="241.9" y1="376" x2="241.9" y2="416" stroke="#262626" stroke-width="0.75"/>
<line x1="246.0" y1="376" x2="246.0" y2="416" stroke="#262626" stroke-width="0.75"/>
<line x1="250.1" y1="376" x2="250.1" y2="416" stroke="#262626" stroke-width="0.75"/>
<line x1="254.2" y1="376" x2="254.2" y2="416" stroke="#262626" stroke-width="0.75"/>
<line x1="258.3" y1="376" x2="258.3" y2="416" stroke="#262626" stroke-width="0.75"/>
<line x1="262.4" y1="376" x2="262.4" y2="416" stroke="#262626" stroke-width="0.75"/>
<line x1="266.5" y1="376" x2="266.5" y2="416" stroke="#262626" stroke-width="0.75"/>
<line x1="270.6" y1="376" x2="270.6" y2="416" stroke="#262626" stroke-width="0.75"/>
<line x1="274.7" y1="376" x2="274.7" y2="416" stroke="#262626" stroke-width="0.75"/>
<line x1="278.8" y1="376" x2="278.8" y2="416" stroke="#262626" stroke-width="0.75"/>
<line x1="282.9" y1="376" x2="282.9" y2="416" stroke="#262626" stroke-width="0.75"/>
<line x1="287.0" y1="376" x2="287.0" y2="416" stroke="#262626" stroke-width="0.75"/>
<line x1="209.6" y1="407.2" x2="221.6" y2="407.2" stroke="#262626" stroke-width="1.0"/>
<line x1="209" y1="375.8" x2="288" y2="375.8" stroke="#262626" stroke-width="0.8"/>
<line x1="429.4" y1="376" x2="429.4" y2="416" stroke="#262626" stroke-width="0.75"/>
<line x1="434.2" y1="376" x2="434.2" y2="416" stroke="#262626" stroke-width="0.75"/>
<line x1="439.0" y1="376" x2="439.0" y2="416" stroke="#262626" stroke-width="0.75"/>
<line x1="443.8" y1="376" x2="443.8" y2="416" stroke="#262626" stroke-width="0.75"/>
<line x1="448.6" y1="376" x2="448.6" y2="416" stroke="#262626" stroke-width="0.75"/>
<line x1="453.4" y1="376" x2="453.4" y2="416" stroke="#262626" stroke-width="0.75"/>
<line x1="458.2" y1="376" x2="458.2" y2="416" stroke="#262626" stroke-width="0.75"/>
<line x1="463.0" y1="376" x2="463.0" y2="416" stroke="#262626" stroke-width="0.75"/>
<line x1="467.8" y1="376" x2="467.8" y2="416" stroke="#262626" stroke-width="0.75"/>
<line x1="472.6" y1="376" x2="472.6" y2="416" stroke="#262626" stroke-width="0.75"/>
<line x1="477.4" y1="376" x2="477.4" y2="416" stroke="#262626" stroke-width="0.75"/>
<line x1="482.2" y1="376" x2="482.2" y2="416" stroke="#262626" stroke-width="0.75"/>
<line x1="487.0" y1="376" x2="487.0" y2="416" stroke="#262626" stroke-width="0.75"/>
<line x1="429" y1="375.7" x2="487" y2="375.7" stroke="#262626" stroke-width="0.8"/>
<line x1="491" y1="376" x2="504" y2="376" stroke="#262626" stroke-width="0.7"/>
<line x1="220.3" y1="109.5" x2="220.3" y2="434" stroke="#262626" stroke-width="1.0"/>
<line x1="227.6" y1="116.8" x2="227.6" y2="416" stroke="#262626" stroke-width="1.0"/>
<rect x="220.3" y="116.8" width="7.3" height="119" fill="none" stroke="#262626" stroke-width="1.1"/>
<rect x="221" y="263.3" width="7.1" height="7.7" fill="none" stroke="#262626" stroke-width="1.2"/>
<rect x="221" y="286.8" width="7.1" height="10.6" fill="none" stroke="#262626" stroke-width="1.2"/>
<rect x="221" y="320.6" width="7.1" height="95.4" fill="none" stroke="#262626" stroke-width="1.1"/>
<rect x="221" y="110.5" width="4" height="3.5" fill="none" stroke="#262626" stroke-width="0.8"/>
<line x1="238" y1="117" x2="238" y2="187" stroke="#444" stroke-width="0.8"/>
<line x1="278" y1="117" x2="278" y2="192.4" stroke="#262626" stroke-width="1.1"/>
<line x1="287.2" y1="117" x2="287.2" y2="187.6" stroke="#262626" stroke-width="1.1"/>
<rect x="227.6" y="187" width="13.4" height="3" fill="none" stroke="#262626" stroke-width="1.0"/>
<rect x="262" y="187.2" width="16" height="2" fill="none" stroke="#262626" stroke-width="1.0"/>
<line x1="278" y1="192.4" x2="327" y2="192.4" stroke="#262626" stroke-width="1.0"/>
<line x1="327" y1="192.2" x2="400" y2="192" stroke="#aaa" stroke-width="0.5"/>
<line x1="287.2" y1="187.6" x2="420" y2="186.8" stroke="#262626" stroke-width="1.1"/>
<line x1="306.5" y1="186.8" x2="306.5" y2="192.4" stroke="#262626" stroke-width="0.9"/>
<line x1="307" y1="189.7" x2="402" y2="189.7" stroke="#262626" stroke-width="0.6"/>
<line x1="336.8" y1="189.7" x2="363" y2="189.7" stroke="#262626" stroke-width="1.0"/>
<line x1="241" y1="190" x2="241" y2="211" stroke="#262626" stroke-width="0.9"/>
<path d="M241,211 A21,21 0 0 0 262,190" fill="none" stroke="#262626" stroke-width="0.8"/>
<text x="245.6" y="144.8" font-size="7.50" font-weight="bold" fill="#262626" stroke="#262626" stroke-width="0.55" textLength="22.40" lengthAdjust="spacingAndGlyphs">ABST.</text>
<circle cx="252.4" cy="154.8" r="8.2" fill="#fff" stroke="#262626" stroke-width="1.55"/>
<text x="252.4" y="159.20" font-size="12.30" font-weight="bold" fill="#262626" stroke="#262626" stroke-width="0.75" text-anchor="middle">2</text>
<text x="292" y="144.5" font-size="8.59" font-weight="bold" fill="#262626" stroke="#262626" stroke-width="0.55" textLength="28.00" lengthAdjust="spacingAndGlyphs">LOGGIA</text>
<circle cx="337.8" cy="148.6" r="8.2" fill="#fff" stroke="#262626" stroke-width="1.55"/>
<text x="337.8" y="153.00" font-size="12.30" font-weight="bold" fill="#262626" stroke="#262626" stroke-width="0.75" text-anchor="middle">2</text>
<line x1="400" y1="116.5" x2="400" y2="154" stroke="#262626" stroke-width="0.75"/>
<line x1="405.0" y1="116.5" x2="405.0" y2="154" stroke="#262626" stroke-width="0.75"/>
<line x1="410.0" y1="116.5" x2="410.0" y2="154" stroke="#262626" stroke-width="0.75"/>
<line x1="415.0" y1="116.5" x2="415.0" y2="154" stroke="#262626" stroke-width="0.75"/>
<line x1="420.0" y1="116.5" x2="420.0" y2="154" stroke="#262626" stroke-width="0.75"/>
<line x1="400" y1="154" x2="420" y2="154" stroke="#262626" stroke-width="0.9"/>
<line x1="420" y1="116" x2="420" y2="157" stroke="#262626" stroke-width="1.1"/>
<line x1="428" y1="116" x2="428" y2="157" stroke="#262626" stroke-width="1.1"/>
<line x1="420" y1="157" x2="428" y2="157" stroke="#262626" stroke-width="1.1"/>
<line x1="444.5" y1="118" x2="444.5" y2="148" stroke="#262626" stroke-width="0.9"/>
<rect x="428" y="148" width="17" height="3" fill="none" stroke="#262626" stroke-width="1.1"/>
<rect x="465" y="148.4" width="17" height="3" fill="none" stroke="#262626" stroke-width="1.1"/>
<line x1="464" y1="128" x2="464" y2="148" stroke="#262626" stroke-width="0.6"/>
<rect x="430" y="133" width="15" height="14" fill="none" stroke="#262626" stroke-width="0.9"/>
<path d="M432,140.5 A4.5,4.5 0 1 0 441,140.5 A4.5,4.5 0 1 0 432,140.5" fill="none" stroke="#444" stroke-width="1.7"/>
<text x="450" y="128.8" font-size="7.50" font-weight="bold" fill="#262626" stroke="#262626" stroke-width="0.55" textLength="22.00" lengthAdjust="spacingAndGlyphs">ABST.</text>
<circle cx="456.8" cy="138.8" r="8.2" fill="#fff" stroke="#262626" stroke-width="1.55"/>
<text x="456.8" y="143.20" font-size="12.30" font-weight="bold" fill="#262626" stroke="#262626" stroke-width="0.75" text-anchor="middle">2</text>
<line x1="428" y1="157" x2="428" y2="178" stroke="#262626" stroke-width="0.8"/>
<path d="M449,157 A21,21 0 0 1 428,178" fill="none" stroke="#262626" stroke-width="0.8"/>
<polygon points="402,186.6 421,186.6 421,177.7 428.5,177.7 428.5,193.8 402,193.8" fill="none" stroke="#262626" stroke-width="1.2"/>
<line x1="482" y1="116.5" x2="482" y2="434" stroke="#262626" stroke-width="1.1"/>
<line x1="491" y1="108.5" x2="491.5" y2="434" stroke="#262626" stroke-width="1.1"/>
<line x1="467.6" y1="151" x2="467.6" y2="250.4" stroke="#262626" stroke-width="0.9"/>
<line x1="467.6" y1="154" x2="482" y2="154" stroke="#262626" stroke-width="0.8"/>
<rect x="467.5" y="166.4" width="14.5" height="27.6" fill="none" stroke="#262626" stroke-width="1.1"/>
<rect x="469.4" y="173.6" width="9.6" height="12" fill="none" stroke="#262626" stroke-width="0.8"/>
<rect x="469.2" y="167.6" width="9.8" height="6.5" fill="#9a9a9a" stroke="#262626" stroke-width="0.7"/>
<line x1="485" y1="195" x2="485" y2="232" stroke="#262626" stroke-width="0.6"/>
<line x1="487.4" y1="195" x2="487.4" y2="232" stroke="#262626" stroke-width="0.6"/>
<line x1="482" y1="195" x2="491" y2="195" stroke="#262626" stroke-width="0.9"/>
<line x1="482" y1="198" x2="491" y2="198" stroke="#262626" stroke-width="0.7"/>
<rect x="482" y="231" width="9" height="5" fill="none" stroke="#262626" stroke-width="1.0"/>
<line x1="486" y1="280" x2="486" y2="306" stroke="#262626" stroke-width="0.6"/>
<line x1="488.6" y1="280" x2="488.6" y2="306" stroke="#262626" stroke-width="0.6"/>
<line x1="482" y1="280" x2="491" y2="280" stroke="#262626" stroke-width="0.9"/>
<line x1="482" y1="306" x2="491" y2="306" stroke="#262626" stroke-width="0.9"/>
<line x1="484.2" y1="306" x2="484.2" y2="406.8" stroke="#262626" stroke-width="1.0"/>
<line x1="500.6" y1="140" x2="500.6" y2="376" stroke="#888" stroke-width="0.5"/>
<text x="434" y="207.4" font-size="8.44" font-weight="bold" fill="#262626" stroke="#262626" stroke-width="0.55" textLength="25.30" lengthAdjust="spacingAndGlyphs">KÜCHE</text>
<circle cx="446.8" cy="222" r="8.2" fill="#fff" stroke="#262626" stroke-width="1.55"/>
<text x="446.8" y="226.40" font-size="12.30" font-weight="bold" fill="#262626" stroke="#262626" stroke-width="0.75" text-anchor="middle">2</text>
<path d="M405,199 A25,25 0 0 0 417,215" fill="none" stroke="#262626" stroke-width="0.6"/>
<line x1="408.6" y1="216" x2="408.6" y2="254.4" stroke="#262626" stroke-width="0.9"/>
<rect x="425.4" y="215" width="3.2" height="58" fill="none" stroke="#262626" stroke-width="1.2"/>
<line x1="408.6" y1="218" x2="425.4" y2="218" stroke="#262626" stroke-width="0.8"/>
<line x1="408.6" y1="224" x2="425.4" y2="224" stroke="#262626" stroke-width="0.8"/>
<line x1="408.6" y1="230" x2="425.4" y2="230" stroke="#262626" stroke-width="0.8"/>
<line x1="408.6" y1="236" x2="425.4" y2="236" stroke="#262626" stroke-width="0.8"/>
<line x1="408.6" y1="242" x2="425.4" y2="242" stroke="#262626" stroke-width="0.8"/>
<line x1="408.6" y1="248.5" x2="425.4" y2="248.5" stroke="#262626" stroke-width="0.8"/>
<line x1="417.5" y1="215" x2="417.5" y2="258" stroke="#262626" stroke-width="0.6"/>
<path d="M415,217.5 A2.5,2.5 0 1 0 420,217.5 A2.5,2.5 0 1 0 415,217.5" fill="none" stroke="#262626" stroke-width="0.7"/>
<line x1="428.6" y1="238.5" x2="467.6" y2="238.5" stroke="#666" stroke-width="0.6"/>
<line x1="386.8" y1="254.4" x2="409" y2="254.4" stroke="#262626" stroke-width="0.9"/>
<polyline points="386.8,254.4 376,272.4 388,283.2 400,272.4 425.4,272.4" fill="none" stroke="#262626" stroke-width="0.9"/>
<line x1="392" y1="254.4" x2="382" y2="280" stroke="#262626" stroke-width="0.7"/>
<line x1="397" y1="255" x2="388" y2="283" stroke="#262626" stroke-width="0.7"/>
<line x1="403" y1="255" x2="406" y2="272.4" stroke="#262626" stroke-width="0.7"/>
<line x1="409.5" y1="255" x2="414" y2="272.4" stroke="#262626" stroke-width="0.7"/>
<line x1="413" y1="258" x2="424" y2="268" stroke="#262626" stroke-width="0.7"/>
<line x1="416" y1="255" x2="425.4" y2="258" stroke="#262626" stroke-width="0.7"/>
<line x1="389" y1="258" x2="395" y2="265" stroke="#262626" stroke-width="0.7"/>
<line x1="384" y1="263" x2="392" y2="270" stroke="#262626" stroke-width="0.7"/>
<line x1="380" y1="268" x2="388" y2="276" stroke="#262626" stroke-width="0.7"/>
<line x1="378.5" y1="272" x2="385" y2="279" stroke="#262626" stroke-width="0.7"/>
<path d="M418,251 Q418,260 408,262 Q396,264 388,270 L376,273" fill="none" stroke="#262626" stroke-width="0.6"/>
<line x1="360" y1="273" x2="376" y2="273" stroke="#262626" stroke-width="0.8"/>
<rect x="417.5" y="272.4" width="4.5" height="3.5" fill="none" stroke="#262626" stroke-width="1.0"/>
<line x1="380.8" y1="292" x2="395.8" y2="278.6" stroke="#262626" stroke-width="0.6" stroke-dasharray="2,2"/>
<line x1="397.6" y1="278.6" x2="413" y2="295.2" stroke="#262626" stroke-width="0.8"/>
<path d="M374.4,298.4 L380.8,292.8 L382.4,294.4 L377.6,299" fill="none" stroke="#262626" stroke-width="1.0"/>
<rect x="426.4" y="250" width="55.6" height="3.2" fill="none" stroke="#262626" stroke-width="1.2"/>
<rect x="429.6" y="254.8" width="52.4" height="18.4" fill="none" stroke="#262626" stroke-width="0.9"/>
<path d="M442,257.2 L476,257.2 Q480,257.2 480,264.4 Q480,271.6 476,271.6 L442,271.6 Q439.2,271.6 439.2,264.4 Q439.2,257.2 442,257.2 Z" fill="none" stroke="#262626" stroke-width="0.8"/>
<line x1="436" y1="255" x2="436" y2="273" stroke="#262626" stroke-width="0.6"/>
<line x1="421.0" y1="274" x2="421.0" y2="322.5" stroke="#555" stroke-width="0.5"/>
<line x1="425.7" y1="274" x2="425.7" y2="322.5" stroke="#555" stroke-width="0.5"/>
<line x1="430.4" y1="274" x2="430.4" y2="322.5" stroke="#555" stroke-width="0.5"/>
<line x1="435.1" y1="274" x2="435.1" y2="322.5" stroke="#555" stroke-width="0.5"/>
<line x1="439.8" y1="274" x2="439.8" y2="322.5" stroke="#555" stroke-width="0.5"/>
<line x1="444.5" y1="274" x2="444.5" y2="322.5" stroke="#555" stroke-width="0.5"/>
<line x1="449.2" y1="274" x2="449.2" y2="322.5" stroke="#555" stroke-width="0.5"/>
<line x1="453.9" y1="274" x2="453.9" y2="322.5" stroke="#555" stroke-width="0.5"/>
<line x1="458.6" y1="274" x2="458.6" y2="322.5" stroke="#555" stroke-width="0.5"/>
<line x1="463.3" y1="274" x2="463.3" y2="322.5" stroke="#555" stroke-width="0.5"/>
<line x1="468.0" y1="274" x2="468.0" y2="322.5" stroke="#555" stroke-width="0.5"/>
<line x1="472.7" y1="274" x2="472.7" y2="322.5" stroke="#555" stroke-width="0.5"/>
<line x1="477.4" y1="274" x2="477.4" y2="322.5" stroke="#555" stroke-width="0.5"/>
<line x1="421" y1="274.0" x2="482" y2="274.0" stroke="#555" stroke-width="0.5"/>
<line x1="421" y1="278.7" x2="482" y2="278.7" stroke="#555" stroke-width="0.5"/>
<line x1="421" y1="283.4" x2="482" y2="283.4" stroke="#555" stroke-width="0.5"/>
<line x1="421" y1="288.1" x2="482" y2="288.1" stroke="#555" stroke-width="0.5"/>
<line x1="421" y1="292.8" x2="482" y2="292.8" stroke="#555" stroke-width="0.5"/>
<line x1="421" y1="297.5" x2="482" y2="297.5" stroke="#555" stroke-width="0.5"/>
<line x1="421" y1="302.2" x2="482" y2="302.2" stroke="#555" stroke-width="0.5"/>
<line x1="421" y1="306.9" x2="482" y2="306.9" stroke="#555" stroke-width="0.5"/>
<line x1="421" y1="311.6" x2="482" y2="311.6" stroke="#555" stroke-width="0.5"/>
<line x1="421" y1="316.3" x2="482" y2="316.3" stroke="#555" stroke-width="0.5"/>
<line x1="421" y1="321.0" x2="482" y2="321.0" stroke="#555" stroke-width="0.5"/>
<line x1="418" y1="276" x2="418" y2="324" stroke="#262626" stroke-width="1.1"/>
<line x1="421.8" y1="276" x2="421.8" y2="324" stroke="#262626" stroke-width="1.1"/>
<rect x="423.2" y="302.8" width="18.4" height="20.8" fill="#fff" stroke="#262626" stroke-width="0.9"/>
<line x1="441" y1="305" x2="425" y2="306" stroke="#262626" stroke-width="0.5"/>
<line x1="441" y1="305" x2="424" y2="312" stroke="#262626" stroke-width="0.5"/>
<line x1="441" y1="305" x2="426" y2="318" stroke="#262626" stroke-width="0.5"/>
<line x1="441" y1="305" x2="432" y2="322" stroke="#262626" stroke-width="0.5"/>
<line x1="441" y1="305" x2="438" y2="321" stroke="#262626" stroke-width="0.5"/>
<rect x="464.8" y="286.8" width="16" height="9.6" fill="#fff" stroke="#262626" stroke-width="0"/>
<path d="M465.4,291.3 A4.3,4.3 0 1 0 474,291.3 A4.3,4.3 0 1 0 465.4,291.3" fill="none" stroke="#262626" stroke-width="0.9"/>
<rect x="476" y="287" width="4.6" height="9" fill="none" stroke="#262626" stroke-width="0.8"/>
<rect x="459" y="308" width="17" height="14" fill="#fff" stroke="#262626" stroke-width="0"/>
<path d="M460,315.5 Q460,309 468,309 Q476,309 476,315.5 Q476,322 468,322 Q460,322 460,315.5 Z" fill="none" stroke="#262626" stroke-width="0.9"/>
<text x="437.6" y="295" font-size="7.81" font-weight="bold" fill="#262626" stroke="#262626" stroke-width="0.2" textLength="15.20" lengthAdjust="spacingAndGlyphs">BAD</text>
<circle cx="449.6" cy="306" r="8.2" fill="#fff" stroke="#262626" stroke-width="1.55"/>
<text x="449.6" y="310.40" font-size="12.30" font-weight="bold" fill="#262626" stroke="#262626" stroke-width="0.75" text-anchor="middle">2</text>
<rect x="420" y="322.8" width="62" height="3.2" fill="none" stroke="#262626" stroke-width="1.2"/>
<line x1="374.4" y1="298" x2="374.4" y2="408" stroke="#262626" stroke-width="1.1"/>
<line x1="377.6" y1="298" x2="377.6" y2="408" stroke="#262626" stroke-width="1.1"/>
<line x1="377.6" y1="301.6" x2="392" y2="301.6" stroke="#262626" stroke-width="0.8"/>
<line x1="390" y1="302" x2="390" y2="323" stroke="#262626" stroke-width="0.6"/>
<rect x="376" y="323.2" width="18.4" height="3.2" fill="none" stroke="#262626" stroke-width="1.2"/>
<line x1="394.4" y1="326.4" x2="394.4" y2="346" stroke="#262626" stroke-width="0.9"/>
<path d="M394.4,346 A21,21 0 0 0 415.2,325.6" fill="none" stroke="#262626" stroke-width="0.8"/>
<rect x="415.3" y="322.5" width="6.5" height="3.5" fill="none" stroke="#262626" stroke-width="1.1"/>
<text x="394.4" y="301" font-size="7.81" font-weight="bold" fill="#262626" stroke="#262626" stroke-width="0.55" textLength="20.80" lengthAdjust="spacingAndGlyphs">DIELE</text>
<circle cx="400" cy="312.8" r="8.2" fill="#fff" stroke="#262626" stroke-width="1.55"/>
<text x="400" y="317.20" font-size="12.30" font-weight="bold" fill="#262626" stroke="#262626" stroke-width="0.75" text-anchor="middle">2</text>
<rect x="398.4" y="273.6" width="19" height="2.6" fill="none" stroke="#262626" stroke-width="1.0"/>
<text x="405" y="361.5" font-size="8.59" font-weight="bold" fill="#262626" stroke="#262626" stroke-width="0.55" textLength="59.00" lengthAdjust="spacingAndGlyphs">SCHLAFZIMMER</text>
<circle cx="412" cy="380" r="8.2" fill="#fff" stroke="#262626" stroke-width="1.55"/>
<text x="412" y="384.40" font-size="12.30" font-weight="bold" fill="#262626" stroke="#262626" stroke-width="0.75" text-anchor="middle">2</text>
<line x1="375" y1="407" x2="484" y2="406.8" stroke="#262626" stroke-width="1.1"/>
<line x1="222" y1="416.4" x2="492.4" y2="415.6" stroke="#262626" stroke-width="1.1"/>
<line x1="281" y1="407" x2="375" y2="407" stroke="#262626" stroke-width="1.1"/>
<line x1="281" y1="412.5" x2="470" y2="412.5" stroke="#262626" stroke-width="0.6"/>
<line x1="290" y1="407" x2="290" y2="416" stroke="#262626" stroke-width="0.9"/>
<line x1="316.5" y1="407" x2="316.5" y2="416" stroke="#262626" stroke-width="0.9"/>
<line x1="329.7" y1="407" x2="329.7" y2="416" stroke="#262626" stroke-width="0.9"/>
<line x1="334" y1="407" x2="334" y2="416" stroke="#262626" stroke-width="0.9"/>
<line x1="359" y1="407" x2="359" y2="416" stroke="#262626" stroke-width="0.9"/>
<line x1="398" y1="407" x2="398" y2="416" stroke="#262626" stroke-width="0.9"/>
<line x1="422.5" y1="407" x2="422.5" y2="416" stroke="#262626" stroke-width="0.9"/>
<line x1="453" y1="407" x2="453" y2="416" stroke="#262626" stroke-width="0.9"/>
<line x1="492.4" y1="376" x2="492.4" y2="415.6" stroke="#262626" stroke-width="0.9"/>
<rect x="228.1" y="265.7" width="50.5" height="2.9" fill="none" stroke="#262626" stroke-width="1.2"/>
<rect x="228.1" y="290.7" width="42.3" height="2.3" fill="none" stroke="#262626" stroke-width="1.2"/>
<rect x="276.2" y="265.2" width="5.3" height="31.3" fill="none" stroke="#262626" stroke-width="1.2"/>
<line x1="232.5" y1="268.6" x2="232.5" y2="290.7" stroke="#555" stroke-width="0.5"/>
<line x1="237.1" y1="268.6" x2="237.1" y2="290.7" stroke="#555" stroke-width="0.5"/>
<line x1="241.7" y1="268.6" x2="241.7" y2="290.7" stroke="#555" stroke-width="0.5"/>
<line x1="246.3" y1="268.6" x2="246.3" y2="290.7" stroke="#555" stroke-width="0.5"/>
<line x1="250.9" y1="268.6" x2="250.9" y2="290.7" stroke="#555" stroke-width="0.5"/>
<line x1="255.5" y1="268.6" x2="255.5" y2="290.7" stroke="#555" stroke-width="0.5"/>
<line x1="260.1" y1="268.6" x2="260.1" y2="290.7" stroke="#555" stroke-width="0.5"/>
<line x1="264.7" y1="268.6" x2="264.7" y2="290.7" stroke="#555" stroke-width="0.5"/>
<line x1="269.3" y1="268.6" x2="269.3" y2="290.7" stroke="#555" stroke-width="0.5"/>
<line x1="273.9" y1="268.6" x2="273.9" y2="290.7" stroke="#555" stroke-width="0.5"/>
<line x1="228.1" y1="272.4" x2="276.2" y2="272.4" stroke="#555" stroke-width="0.5"/>
<line x1="228.1" y1="277.0" x2="276.2" y2="277.0" stroke="#555" stroke-width="0.5"/>
<line x1="228.1" y1="281.6" x2="276.2" y2="281.6" stroke="#555" stroke-width="0.5"/>
<line x1="228.1" y1="286.2" x2="276.2" y2="286.2" stroke="#555" stroke-width="0.5"/>
<rect x="234" y="276" width="11" height="10" fill="#fff" stroke="#262626" stroke-width="0"/>
<path d="M235,286 L235,281 Q235,276.3 240,276.3 Q245,276.3 245,281 L245,286" fill="none" stroke="#262626" stroke-width="0.8"/>
<rect x="266" y="271" width="10.5" height="7" fill="#fff" stroke="#262626" stroke-width="0"/>
<path d="M267,274.7 Q267,272.4 271.8,272.4 Q276.6,272.4 276.6,274.7 Q276.6,277 271.8,277 Q267,277 267,274.7 Z" fill="none" stroke="#262626" stroke-width="0.8"/>
<text x="250" y="279.6" font-size="5.94" font-weight="bold" fill="#262626" stroke="#262626" stroke-width="0.2" textLength="8.00" lengthAdjust="spacingAndGlyphs">WC</text>
<circle cx="259.8" cy="289.3" r="7.4" fill="#fff" stroke="#262626" stroke-width="1.55"/>
<text x="259.8" y="293.27" font-size="11.10" font-weight="bold" fill="#262626" stroke="#262626" stroke-width="0.75" text-anchor="middle">2</text>
<line x1="282" y1="320" x2="306" y2="320" stroke="#262626" stroke-width="0.9"/>
<path d="M282,296 A24,24 0 0 1 306,320" fill="none" stroke="#262626" stroke-width="0.8"/>
<line x1="281" y1="319" x2="300" y2="319" stroke="#262626" stroke-width="0.8"/>
<text x="234" y="311.5" font-size="8.59" font-weight="bold" fill="#262626" stroke="#262626" stroke-width="0.55" textLength="18.00" lengthAdjust="spacingAndGlyphs">FLUR</text>
<circle cx="239.7" cy="324.1" r="8.2" fill="#fff" stroke="#262626" stroke-width="1.55"/>
<text x="239.7" y="328.50" font-size="12.30" font-weight="bold" fill="#262626" stroke="#262626" stroke-width="0.75" text-anchor="middle">2</text>
<rect x="276" y="320.6" width="5.7" height="87.4" fill="none" stroke="#262626" stroke-width="1.2"/>
<rect x="254.4" y="325.5" width="21.6" height="6.3" fill="none" stroke="#262626" stroke-width="0.8"/>
<path d="M263,325.5 A2,2 0 1 0 267,325.5 A2,2 0 1 0 263,325.5" fill="none" stroke="#262626" stroke-width="0.7"/>
<path d="M250.2,333 L250.2,361 A2.4,2.4 0 0 0 255,361 L255,333 Z" fill="none" stroke="#262626" stroke-width="0.8"/>
<line x1="229" y1="338" x2="250.2" y2="338" stroke="#262626" stroke-width="0.7"/>
<line x1="229" y1="343.7" x2="250.2" y2="343.7" stroke="#262626" stroke-width="0.7"/>
<line x1="229" y1="349.3" x2="250.2" y2="349.3" stroke="#262626" stroke-width="0.7"/>
<line x1="229" y1="355" x2="250.2" y2="355" stroke="#262626" stroke-width="0.7"/>
<line x1="229" y1="360.5" x2="250.2" y2="360.5" stroke="#262626" stroke-width="0.7"/>
<line x1="255" y1="334" x2="276" y2="334" stroke="#262626" stroke-width="0.7"/>
<line x1="255" y1="338" x2="276" y2="338" stroke="#262626" stroke-width="0.7"/>
<line x1="255" y1="343" x2="276" y2="343" stroke="#262626" stroke-width="0.7"/>
<path d="M233.4,344.4 L237.6,339 L241.8,344.4 Z" fill="none" stroke="#262626" stroke-width="0.8"/>
<path d="M237.6,344 L237.6,361 Q238,372 250,373 Q262,373 270,364" fill="none" stroke="#262626" stroke-width="0.7"/>
<line x1="255" y1="357" x2="276" y2="348" stroke="#262626" stroke-width="0.6"/>
<line x1="255" y1="357" x2="276" y2="354" stroke="#262626" stroke-width="0.6"/>
<line x1="255" y1="357" x2="276" y2="360" stroke="#262626" stroke-width="0.6"/>
<line x1="255" y1="357" x2="276" y2="366" stroke="#262626" stroke-width="0.6"/>
<line x1="255" y1="357" x2="273" y2="371" stroke="#262626" stroke-width="0.6"/>
<line x1="255" y1="357" x2="266" y2="374.5" stroke="#262626" stroke-width="0.6"/>
<line x1="255" y1="357" x2="260" y2="375" stroke="#262626" stroke-width="0.6"/>
<rect x="228.6" y="383" width="47.4" height="24.5" fill="none" stroke="#262626" stroke-width="1.0"/>
<line x1="222" y1="416" x2="292" y2="416" stroke="#262626" stroke-width="1.1"/>
<line x1="292" y1="408" x2="292" y2="416" stroke="#262626" stroke-width="1.0"/>
<line x1="281" y1="408" x2="292" y2="408" stroke="#262626" stroke-width="1.0"/>
<text x="242" y="400.5" font-size="8.59" font-weight="bold" fill="#262626" stroke="#262626" stroke-width="0.55" textLength="15.00" lengthAdjust="spacingAndGlyphs">ABST</text>
<circle cx="266" cy="399" r="8.2" fill="#fff" stroke="#262626" stroke-width="1.55"/>
<text x="266" y="403.40" font-size="12.30" font-weight="bold" fill="#262626" stroke="#262626" stroke-width="0.75" text-anchor="middle">2</text>
<line x1="328.5" y1="193" x2="328.5" y2="273.5" stroke="#262626" stroke-width="1.2" stroke-dasharray="6,3"/>
<line x1="328.5" y1="273.5" x2="376" y2="273.5" stroke="#262626" stroke-width="1.2" stroke-dasharray="7,3"/>
<text x="267" y="220.5" font-size="8.59" font-weight="bold" fill="#262626" stroke="#262626" stroke-width="0.55" textLength="31.00" lengthAdjust="spacingAndGlyphs">WOHNEN</text>
<circle cx="276" cy="237" r="8.2" fill="#fff" stroke="#262626" stroke-width="1.55"/>
<text x="276" y="241.40" font-size="12.30" font-weight="bold" fill="#262626" stroke="#262626" stroke-width="0.75" text-anchor="middle">2</text>
<line x1="287.2" y1="187.6" x2="300" y2="187.6" stroke="#262626" stroke-width="0.9"/>
</svg></body></html>
